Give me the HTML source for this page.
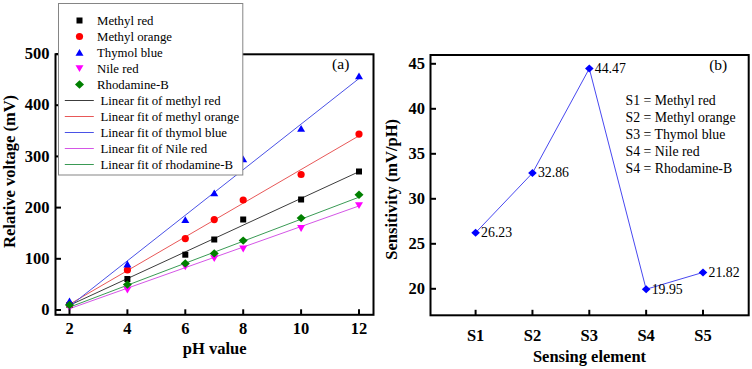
<!DOCTYPE html><html><head><meta charset="utf-8"><style>html,body{margin:0;padding:0;background:#fff;width:752px;height:369px;overflow:hidden;position:relative}</style></head><body><svg width="752" height="369" viewBox="0 0 752 369" style="position:absolute;left:0;top:0">
<rect width="752" height="369" fill="#fff"/>
<line x1="69.50" y1="304.29" x2="359.00" y2="135.80" stroke="#e85858" stroke-width="1"/>
<line x1="69.50" y1="305.31" x2="359.00" y2="171.68" stroke="#3c3c3c" stroke-width="1"/>
<line x1="69.50" y1="306.36" x2="359.00" y2="78.53" stroke="#4a52e6" stroke-width="1"/>
<line x1="69.50" y1="308.73" x2="359.00" y2="205.95" stroke="#d456e6" stroke-width="1"/>
<line x1="69.50" y1="307.19" x2="359.00" y2="197.18" stroke="#3a9a55" stroke-width="1"/>
<rect x="66.50" y="302.00" width="6" height="6" fill="#000"/>
<rect x="124.40" y="276.00" width="6" height="6" fill="#000"/>
<rect x="182.30" y="251.70" width="6" height="6" fill="#000"/>
<rect x="211.25" y="236.50" width="6" height="6" fill="#000"/>
<rect x="240.20" y="216.50" width="6" height="6" fill="#000"/>
<rect x="298.10" y="196.50" width="6" height="6" fill="#000"/>
<rect x="356.00" y="168.50" width="6" height="6" fill="#000"/>
<circle cx="69.50" cy="304.50" r="3.6" fill="#f00"/>
<circle cx="127.40" cy="270.00" r="3.6" fill="#f00"/>
<circle cx="185.30" cy="238.60" r="3.6" fill="#f00"/>
<circle cx="214.25" cy="219.60" r="3.6" fill="#f00"/>
<circle cx="243.20" cy="200.00" r="3.6" fill="#f00"/>
<circle cx="301.10" cy="174.50" r="3.6" fill="#f00"/>
<circle cx="359.00" cy="134.10" r="3.6" fill="#f00"/>
<path d="M69.50,297.60 L73.50,304.40 L65.50,304.40Z" fill="#00f"/>
<path d="M127.40,260.60 L131.40,267.40 L123.40,267.40Z" fill="#00f"/>
<path d="M185.30,216.20 L189.30,223.00 L181.30,223.00Z" fill="#00f"/>
<path d="M214.25,189.50 L218.25,196.30 L210.25,196.30Z" fill="#00f"/>
<path d="M243.20,155.50 L247.20,162.30 L239.20,162.30Z" fill="#00f"/>
<path d="M301.10,125.00 L305.10,131.80 L297.10,131.80Z" fill="#00f"/>
<path d="M359.00,72.50 L363.00,79.30 L355.00,79.30Z" fill="#00f"/>
<path d="M69.50,311.40 L73.50,304.60 L65.50,304.60Z" fill="#f0f"/>
<path d="M127.40,293.60 L131.40,286.80 L123.40,286.80Z" fill="#f0f"/>
<path d="M185.30,270.30 L189.30,263.50 L181.30,263.50Z" fill="#f0f"/>
<path d="M214.25,262.10 L218.25,255.30 L210.25,255.30Z" fill="#f0f"/>
<path d="M243.20,252.40 L247.20,245.60 L239.20,245.60Z" fill="#f0f"/>
<path d="M301.10,231.90 L305.10,225.10 L297.10,225.10Z" fill="#f0f"/>
<path d="M359.00,209.00 L363.00,202.20 L355.00,202.20Z" fill="#f0f"/>
<path d="M69.50,300.80 L74.00,305.00 L69.50,309.20 L65.00,305.00Z" fill="#008000"/>
<path d="M127.40,280.40 L131.90,284.60 L127.40,288.80 L122.90,284.60Z" fill="#008000"/>
<path d="M185.30,259.20 L189.80,263.40 L185.30,267.60 L180.80,263.40Z" fill="#008000"/>
<path d="M214.25,249.20 L218.75,253.40 L214.25,257.60 L209.75,253.40Z" fill="#008000"/>
<path d="M243.20,236.40 L247.70,240.60 L243.20,244.80 L238.70,240.60Z" fill="#008000"/>
<path d="M301.10,213.90 L305.60,218.10 L301.10,222.30 L296.60,218.10Z" fill="#008000"/>
<path d="M359.00,190.50 L363.50,194.70 L359.00,198.90 L354.50,194.70Z" fill="#008000"/>
<rect x="55.5" y="54.3" width="318.0" height="260.5" fill="none" stroke="#000" stroke-width="2"/>
<line x1="55.5" y1="310.00" x2="61.0" y2="310.00" stroke="#000" stroke-width="2"/>
<text x="49.6" y="315.10" text-anchor="end" font-family='"Liberation Serif", serif' font-weight="bold" font-size="16.5">0</text>
<line x1="55.5" y1="258.80" x2="61.0" y2="258.80" stroke="#000" stroke-width="2"/>
<text x="49.6" y="263.90" text-anchor="end" font-family='"Liberation Serif", serif' font-weight="bold" font-size="16.5">100</text>
<line x1="55.5" y1="207.60" x2="61.0" y2="207.60" stroke="#000" stroke-width="2"/>
<text x="49.6" y="212.70" text-anchor="end" font-family='"Liberation Serif", serif' font-weight="bold" font-size="16.5">200</text>
<line x1="55.5" y1="156.40" x2="61.0" y2="156.40" stroke="#000" stroke-width="2"/>
<text x="49.6" y="161.50" text-anchor="end" font-family='"Liberation Serif", serif' font-weight="bold" font-size="16.5">300</text>
<line x1="55.5" y1="105.20" x2="61.0" y2="105.20" stroke="#000" stroke-width="2"/>
<text x="49.6" y="110.30" text-anchor="end" font-family='"Liberation Serif", serif' font-weight="bold" font-size="16.5">400</text>
<line x1="55.5" y1="54.00" x2="61.0" y2="54.00" stroke="#000" stroke-width="2"/>
<text x="49.6" y="59.10" text-anchor="end" font-family='"Liberation Serif", serif' font-weight="bold" font-size="16.5">500</text>
<line x1="69.50" y1="314.8" x2="69.50" y2="309.3" stroke="#000" stroke-width="2"/>
<text x="69.50" y="333.6" text-anchor="middle" font-family='"Liberation Serif", serif' font-weight="bold" font-size="16.5">2</text>
<line x1="127.40" y1="314.8" x2="127.40" y2="309.3" stroke="#000" stroke-width="2"/>
<text x="127.40" y="333.6" text-anchor="middle" font-family='"Liberation Serif", serif' font-weight="bold" font-size="16.5">4</text>
<line x1="185.30" y1="314.8" x2="185.30" y2="309.3" stroke="#000" stroke-width="2"/>
<text x="185.30" y="333.6" text-anchor="middle" font-family='"Liberation Serif", serif' font-weight="bold" font-size="16.5">6</text>
<line x1="243.20" y1="314.8" x2="243.20" y2="309.3" stroke="#000" stroke-width="2"/>
<text x="243.20" y="333.6" text-anchor="middle" font-family='"Liberation Serif", serif' font-weight="bold" font-size="16.5">8</text>
<line x1="301.10" y1="314.8" x2="301.10" y2="309.3" stroke="#000" stroke-width="2"/>
<text x="301.10" y="333.6" text-anchor="middle" font-family='"Liberation Serif", serif' font-weight="bold" font-size="16.5">10</text>
<line x1="359.00" y1="314.8" x2="359.00" y2="309.3" stroke="#000" stroke-width="2"/>
<text x="359.00" y="333.6" text-anchor="middle" font-family='"Liberation Serif", serif' font-weight="bold" font-size="16.5">12</text>
<text x="214.7" y="354.1" text-anchor="middle" font-family='"Liberation Serif", serif' font-weight="bold" font-size="16.5">pH value</text>
<text transform="translate(15.2,171.4) rotate(-90)" text-anchor="middle" font-family='"Liberation Serif", serif' font-weight="bold" font-size="16.5">Relative voltage (mV)</text>
<text x="340.7" y="68.9" text-anchor="middle" font-family='"Liberation Serif", serif' font-size="15.5">(a)</text>
<rect x="58.5" y="3.5" width="184.3" height="171.5" fill="#fff" stroke="#858585" stroke-width="1"/>
<rect x="76.50" y="17.50" width="6" height="6" fill="#000"/>
<text x="97" y="24.70" font-family='"Liberation Serif", serif' font-size="12.8">Methyl red</text>
<circle cx="79.50" cy="36.50" r="3.6" fill="#f00"/>
<text x="97" y="40.70" font-family='"Liberation Serif", serif' font-size="12.8">Methyl orange</text>
<path d="M79.50,48.90 L83.50,55.70 L75.50,55.70Z" fill="#00f"/>
<text x="97" y="56.70" font-family='"Liberation Serif", serif' font-size="12.8">Thymol blue</text>
<path d="M79.50,72.10 L83.50,65.30 L75.50,65.30Z" fill="#f0f"/>
<text x="97" y="72.70" font-family='"Liberation Serif", serif' font-size="12.8">Nile red</text>
<path d="M79.50,80.30 L84.00,84.50 L79.50,88.70 L75.00,84.50Z" fill="#008000"/>
<text x="97" y="88.70" font-family='"Liberation Serif", serif' font-size="12.8">Rhodamine-B</text>
<line x1="64.8" y1="100.5" x2="93.8" y2="100.5" stroke="#3c3c3c" stroke-width="1"/>
<text x="100.5" y="104.70" font-family='"Liberation Serif", serif' font-size="12.8">Linear fit of methyl red</text>
<line x1="64.8" y1="116.5" x2="93.8" y2="116.5" stroke="#e85858" stroke-width="1"/>
<text x="100.5" y="120.70" font-family='"Liberation Serif", serif' font-size="12.8">Linear fit of methyl orange</text>
<line x1="64.8" y1="132.5" x2="93.8" y2="132.5" stroke="#4a52e6" stroke-width="1"/>
<text x="100.5" y="136.70" font-family='"Liberation Serif", serif' font-size="12.8">Linear fit of thymol blue</text>
<line x1="64.8" y1="148.5" x2="93.8" y2="148.5" stroke="#d456e6" stroke-width="1"/>
<text x="100.5" y="152.70" font-family='"Liberation Serif", serif' font-size="12.8">Linear fit of Nile red</text>
<line x1="64.8" y1="164.5" x2="93.8" y2="164.5" stroke="#3a9a55" stroke-width="1"/>
<text x="100.5" y="168.70" font-family='"Liberation Serif", serif' font-size="12.8">Linear fit of rhodamine-B</text>
<polyline points="475.60,232.73 532.45,173.06 589.30,68.57 646.15,289.25 703.00,272.42" fill="none" stroke="#4848f0" stroke-width="1"/>
<path d="M475.60,228.73 L479.90,232.73 L475.60,236.73 L471.30,232.73Z" fill="#00f"/>
<text x="481.10" y="237.13" font-family='"Liberation Serif", serif' font-size="13.8">26.23</text>
<path d="M532.45,169.06 L536.75,173.06 L532.45,177.06 L528.15,173.06Z" fill="#00f"/>
<text x="537.95" y="177.46" font-family='"Liberation Serif", serif' font-size="13.8">32.86</text>
<path d="M589.30,64.57 L593.60,68.57 L589.30,72.57 L585.00,68.57Z" fill="#00f"/>
<text x="594.80" y="72.97" font-family='"Liberation Serif", serif' font-size="13.8">44.47</text>
<path d="M646.15,285.25 L650.45,289.25 L646.15,293.25 L641.85,289.25Z" fill="#00f"/>
<text x="651.65" y="293.65" font-family='"Liberation Serif", serif' font-size="13.8">19.95</text>
<path d="M703.00,268.42 L707.30,272.42 L703.00,276.42 L698.70,272.42Z" fill="#00f"/>
<text x="708.50" y="276.82" font-family='"Liberation Serif", serif' font-size="13.8">21.82</text>
<rect x="430.5" y="55.0" width="318.20000000000005" height="260.3" fill="none" stroke="#000" stroke-width="2"/>
<line x1="430.5" y1="288.80" x2="436.0" y2="288.80" stroke="#000" stroke-width="2"/>
<text x="425.0" y="294.40" text-anchor="end" font-family='"Liberation Serif", serif' font-weight="bold" font-size="16.5">20</text>
<line x1="430.5" y1="243.80" x2="436.0" y2="243.80" stroke="#000" stroke-width="2"/>
<text x="425.0" y="249.40" text-anchor="end" font-family='"Liberation Serif", serif' font-weight="bold" font-size="16.5">25</text>
<line x1="430.5" y1="198.80" x2="436.0" y2="198.80" stroke="#000" stroke-width="2"/>
<text x="425.0" y="204.40" text-anchor="end" font-family='"Liberation Serif", serif' font-weight="bold" font-size="16.5">30</text>
<line x1="430.5" y1="153.80" x2="436.0" y2="153.80" stroke="#000" stroke-width="2"/>
<text x="425.0" y="159.40" text-anchor="end" font-family='"Liberation Serif", serif' font-weight="bold" font-size="16.5">35</text>
<line x1="430.5" y1="108.80" x2="436.0" y2="108.80" stroke="#000" stroke-width="2"/>
<text x="425.0" y="114.40" text-anchor="end" font-family='"Liberation Serif", serif' font-weight="bold" font-size="16.5">40</text>
<line x1="430.5" y1="63.80" x2="436.0" y2="63.80" stroke="#000" stroke-width="2"/>
<text x="425.0" y="69.40" text-anchor="end" font-family='"Liberation Serif", serif' font-weight="bold" font-size="16.5">45</text>
<line x1="475.60" y1="315.3" x2="475.60" y2="309.8" stroke="#000" stroke-width="2"/>
<text x="475.60" y="341.3" text-anchor="middle" font-family='"Liberation Serif", serif' font-weight="bold" font-size="16.5">S1</text>
<line x1="532.45" y1="315.3" x2="532.45" y2="309.8" stroke="#000" stroke-width="2"/>
<text x="532.45" y="341.3" text-anchor="middle" font-family='"Liberation Serif", serif' font-weight="bold" font-size="16.5">S2</text>
<line x1="589.30" y1="315.3" x2="589.30" y2="309.8" stroke="#000" stroke-width="2"/>
<text x="589.30" y="341.3" text-anchor="middle" font-family='"Liberation Serif", serif' font-weight="bold" font-size="16.5">S3</text>
<line x1="646.15" y1="315.3" x2="646.15" y2="309.8" stroke="#000" stroke-width="2"/>
<text x="646.15" y="341.3" text-anchor="middle" font-family='"Liberation Serif", serif' font-weight="bold" font-size="16.5">S4</text>
<line x1="703.00" y1="315.3" x2="703.00" y2="309.8" stroke="#000" stroke-width="2"/>
<text x="703.00" y="341.3" text-anchor="middle" font-family='"Liberation Serif", serif' font-weight="bold" font-size="16.5">S5</text>
<text x="589.5" y="361.5" text-anchor="middle" font-family='"Liberation Serif", serif' font-weight="bold" font-size="16.5">Sensing element</text>
<text transform="translate(397.3,189.3) rotate(-90)" text-anchor="middle" font-family='"Liberation Serif", serif' font-weight="bold" font-size="16.5">Sensitivity (mV/pH)</text>
<text x="718.2" y="69.8" text-anchor="middle" font-family='"Liberation Serif", serif' font-size="15.5">(b)</text>
<text x="625.5" y="105.10" font-family='"Liberation Serif", serif' font-size="13.8">S1 = Methyl red</text>
<text x="625.5" y="121.95" font-family='"Liberation Serif", serif' font-size="13.8">S2 = Methyl orange</text>
<text x="625.5" y="138.80" font-family='"Liberation Serif", serif' font-size="13.8">S3 = Thymol blue</text>
<text x="625.5" y="155.65" font-family='"Liberation Serif", serif' font-size="13.8">S4 = Nile red</text>
<text x="625.5" y="172.50" font-family='"Liberation Serif", serif' font-size="13.8">S4 = Rhodamine-B</text>
</svg></body></html>
